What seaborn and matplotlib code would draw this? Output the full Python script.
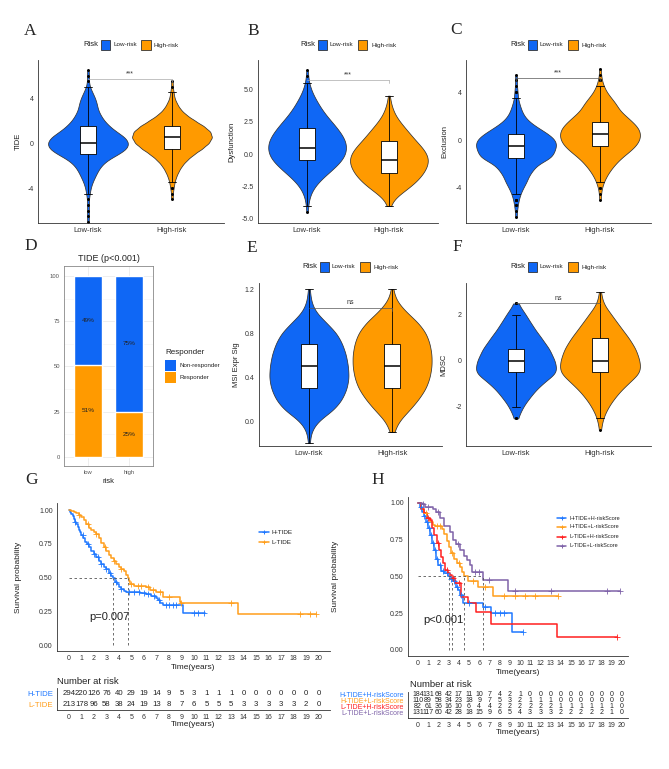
import numpy as np
import pandas as pd
import matplotlib
matplotlib.use("Agg")
import matplotlib.pyplot as plt
import seaborn as sns
from matplotlib.patches import Rectangle
from matplotlib.lines import Line2D

sns.set_theme(style="white")
plt.rcParams["font.family"] = ["Liberation Sans", "DejaVu Sans"]

BLUE = "#0F67F5"
ORANGE = "#FF9A00"
KM_BLUE = "#1F78FF"
KM_ORANGE = "#FF9E1B"
KM_RED = "#FF1F1F"
KM_PURPLE = "#7E62A8"

# ---------------- data ----------------
risk_groups = ["Low-risk", "High-risk"]

# A: TIDE  (value levels and counts)
A_levels = [-7.0, -6.5, -6.0, -5.5, -5.0, -4.5, -4.0, -3.5, -3.0, -2.5, -2.0, -1.5, -1.0, -0.5,
            0.0, 0.5, 1.0, 1.5, 2.0, 2.5, 3.0, 3.5, 4.0, 4.5, 5.0, 5.5, 6.0, 6.5]
A_low = [1, 1, 1, 1, 1, 2, 3, 5, 8, 11, 15, 22, 34, 44, 46, 42, 32, 24, 18, 14, 11, 10, 8, 5, 2, 1, 1, 1]
A_high = [0, 0, 0, 0, 1, 1, 2, 3, 5, 8, 12, 18, 26, 36, 44, 48, 46, 38, 27, 17, 10, 6, 3, 2, 1, 1, 0, 0]

# B: Dysfunction
B_levels = [-4.5, -4.0, -3.5, -3.0, -2.5, -2.0, -1.5, -1.0, -0.5, 0.0, 0.5, 1.0, 1.5, 2.0,
            2.5, 3.0, 3.5, 4.0, 4.5, 5.0, 5.5, 6.0, 6.5]
B_low = [1, 1, 2, 4, 8, 14, 22, 30, 37, 41, 42, 41, 37, 32, 26, 20, 15, 11, 7, 4, 2, 1, 1]
B_high = [0, 2, 5, 14, 24, 32, 38, 42, 44, 42, 37, 30, 24, 18, 12, 7, 4, 2, 1, 0, 0, 0, 0]

# C: Exclusion
C_levels = [-6.5, -6.0, -5.5, -5.0, -4.5, -4.0, -3.5, -3.0, -2.5, -2.0, -1.5, -1.0, -0.5,
            0.0, 0.5, 1.0, 1.5, 2.0, 2.5, 3.0, 3.5, 4.0, 4.5, 5.0, 5.5, 6.0]
C_low = [1, 1, 2, 3, 5, 8, 12, 14, 19, 24, 40, 42, 45, 44, 36, 25, 15, 9, 6, 4, 2, 2, 1, 1, 1, 0]
C_high = [0, 0, 0, 1, 1, 2, 4, 7, 11, 16, 22, 30, 37, 41, 42, 40, 34, 27, 20, 17, 12, 7, 4, 2, 1, 1]

# E: MSI Expr Sig
E_levels = [-0.2, -0.1, 0.0, 0.1, 0.2, 0.3, 0.4, 0.5, 0.6, 0.7, 0.8, 0.9, 1.0, 1.1, 1.2]
E_low = [1, 2, 9, 27, 36, 41, 43, 42, 40, 36, 30, 18, 6, 2, 1]
E_high = [0, 2, 7, 19, 29, 37, 41, 43, 43, 41, 37, 28, 14, 4, 1]

# F
F_levels = [-3.0, -2.5, -2.0, -1.5, -1.0, -0.5, 0.0, 0.5, 1.0, 1.5, 2.0, 2.5, 3.0]
F_low = [0, 2, 8, 18, 30, 50, 46, 40, 30, 20, 12, 2, 0]
F_high = [1, 3, 9, 18, 30, 46, 44, 40, 32, 22, 13, 3, 1]

# D: stacked responder bars
D_risk = ["low", "high"]
D_nonresp = [49, 75]
D_resp = [51, 25]

# G: KM curves (step times / survival)
G_H_t = [0, 0.1, 0.2, 0.3, 0.4, 0.5, 0.6, 0.7, 0.8, 0.9, 1.0, 1.15, 1.3, 1.45, 1.6, 1.8, 2.0, 2.2,
         2.4, 2.6, 2.8, 3.0, 3.2, 3.4, 3.55, 3.7, 3.85, 4.0, 4.2, 4.4, 4.6, 5.2, 5.7, 6.2, 6.6,
         7.0, 7.1, 7.3, 7.5, 9.1]
G_H_s = [1.0, 0.985, 0.97, 0.955, 0.935, 0.915, 0.895, 0.875, 0.855, 0.835, 0.815, 0.79, 0.765,
         0.745, 0.725, 0.70, 0.675, 0.65, 0.625, 0.60, 0.58, 0.56, 0.535, 0.515, 0.495, 0.47,
         0.45, 0.43, 0.415, 0.40, 0.395, 0.39, 0.385, 0.375, 0.365, 0.35, 0.335, 0.31, 0.296, 0.235]
G_H_end = 10.9
G_H_cens = [0.5, 1.1, 1.5, 2.0, 2.3, 2.6, 3.0, 3.3, 3.8, 4.2, 4.8, 5.2, 5.6, 6.0, 6.3, 6.8,
            7.2, 7.8, 8.0, 8.3, 8.6, 10.0, 10.3, 10.8]
G_L_t = [0, 0.2, 0.4, 0.6, 0.8, 1.0, 1.2, 1.4, 1.6, 1.8, 2.0, 2.2, 2.4, 2.6, 2.8, 3.0, 3.2, 3.4,
         3.6, 3.8, 4.0, 4.2, 4.4, 4.6, 4.7, 4.8, 4.9, 5.2, 6.2, 6.5, 7.0, 7.5, 8.9, 9.0, 13.5]
G_L_s = [1.0, 0.995, 0.985, 0.975, 0.96, 0.945, 0.925, 0.90, 0.87, 0.855, 0.84, 0.82, 0.79,
         0.755, 0.725, 0.695, 0.67, 0.645, 0.625, 0.60, 0.58, 0.565, 0.545, 0.52, 0.50, 0.475,
         0.455, 0.44, 0.43, 0.41, 0.395, 0.358, 0.32, 0.309, 0.23]
G_L_end = 19.8
G_L_cens = [0.8, 1.5, 2.2, 2.9, 3.6, 4.2, 5.0, 5.5, 5.8, 6.3, 6.7, 7.3, 8.0, 9.0, 13.0, 18.5, 19.3, 19.8]
G_median = [3.55, 4.7]
G_names = ["H-TIDE", "L-TIDE"]
G_risk_H = [294, 220, 126, 76, 40, 29, 19, 14, 9, 5, 3, 1, 1, 1, 0, 0, 0, 0, 0, 0, 0]
G_risk_L = [213, 178, 96, 58, 38, 24, 19, 13, 8, 7, 6, 5, 5, 5, 3, 3, 3, 3, 3, 2, 0]

# H: KM curves
H_1_t = [0, 0.2, 0.4, 0.6, 0.8, 1.0, 1.2, 1.4, 1.6, 1.8, 2.0, 2.3, 2.6, 2.9, 3.1, 3.4, 3.7, 3.9,
         4.1, 4.4, 6.4, 7.2, 9.2]
H_1_s = [1.0, 0.97, 0.94, 0.91, 0.87, 0.83, 0.78, 0.73, 0.68, 0.62, 0.58, 0.54, 0.52, 0.50,
         0.485, 0.47, 0.43, 0.41, 0.375, 0.318, 0.295, 0.25, 0.125]
H_1_end = 10.3
H_1_cens = [0.3, 0.6, 0.9, 1.1, 1.3, 1.5, 1.7, 1.9, 2.2, 2.5, 2.8, 3.2, 3.5, 3.8, 4.2, 5.0,
            6.6, 7.6, 8.0, 8.4, 10.3]
H_2_t = [0, 0.3, 0.6, 0.9, 1.2, 1.5, 1.7, 2.4, 2.6, 2.8, 3.0, 3.2, 3.5, 3.8, 4.1, 4.3, 4.5,
         4.9, 5.9, 7.4]
H_2_s = [1.0, 0.96, 0.93, 0.895, 0.87, 0.85, 0.843, 0.82, 0.79, 0.74, 0.70, 0.66, 0.62,
         0.59, 0.567, 0.53, 0.50, 0.47, 0.43, 0.37]
H_2_end = 13.7
H_2_cens = [0.8, 1.9, 2.2, 3.3, 4.0, 5.4, 6.6, 8.4, 9.5, 10.5, 11.5, 13.7]
H_3_t = [0, 0.3, 0.6, 0.9, 1.2, 1.4, 1.6, 1.85, 2.1, 2.3, 2.5, 2.65, 2.9, 3.1, 3.3, 3.6, 4.2,
         4.9, 5.7, 7.2, 13.6]
H_3_s = [1.0, 0.96, 0.93, 0.90, 0.884, 0.83, 0.78, 0.73, 0.68, 0.635, 0.59, 0.544, 0.52,
         0.51, 0.49, 0.454, 0.363, 0.318, 0.26, 0.177, 0.09]
H_3_end = 19.5
H_3_cens = [1.0, 2.0, 2.8, 3.4, 4.0, 19.5]
H_4_t = [0, 0.4, 0.7, 1.5, 1.8, 2.2, 2.6, 3.1, 3.4, 3.7, 4.1, 4.5, 4.8, 5.1, 5.3, 6.4, 8.8]
H_4_s = [1.0, 0.99, 0.975, 0.96, 0.94, 0.90, 0.84, 0.80, 0.75, 0.72, 0.68, 0.64, 0.61,
         0.578, 0.533, 0.476, 0.40]
H_4_end = 19.8
H_4_cens = [0.5, 1.0, 2.0, 3.9, 5.6, 6.0, 7.0, 9.5, 13.0, 18.5, 19.8]
H_median = [3.07, 3.3, 4.5, 6.4]
H_names = ["H-TIDE+H-riskScore", "H-TIDE+L-riskScore", "L-TIDE+H-riskScore", "L-TIDE+L-riskScore"]
H_risk_1 = [184, 131, 68, 42, 17, 11, 10, 7, 4, 2, 1, 0, 0, 0, 0, 0, 0, 0, 0, 0, 0]
H_risk_2 = [110, 89, 58, 34, 23, 18, 9, 7, 5, 3, 2, 1, 1, 1, 0, 0, 0, 0, 0, 0, 0]
H_risk_3 = [82, 61, 36, 16, 10, 6, 4, 4, 2, 2, 2, 2, 2, 2, 1, 1, 1, 1, 1, 1, 0]
H_risk_4 = [131, 117, 60, 42, 28, 18, 15, 9, 6, 5, 4, 3, 3, 3, 2, 2, 2, 2, 2, 1, 0]
years = list(range(0, 21))

# ---------------- figure ----------------
W, H = 669, 769
fig = plt.figure(figsize=(W / 100, H / 100), dpi=100)


def px_axes(l, t, r, b):
    return fig.add_axes([l / W, 1 - b / H, (r - l) / W, (b - t) / H])


def fx(x):
    return x / W


def fy(y):
    return 1 - y / H


def panel_label(x, y, s):
    fig.text(fx(x), fy(y), s, fontsize=12.5, family=["Liberation Serif", "DejaVu Serif"],
             ha="center", va="center")


def risk_legend(cx, cy):
    fig.text(fx(cx - 48), fy(cy), "Risk", fontsize=5.5, ha="left", va="center", color="#222222")
    fig.add_artist(Rectangle((fx(cx - 30.5), fy(cy + 5)), 9.5 / W, 10 / H, transform=fig.transFigure,
                             facecolor=BLUE, edgecolor="#333333", lw=0.6))
    fig.text(fx(cx - 18), fy(cy), "Low-risk", fontsize=4.6, ha="left", va="center", color="#222222")
    fig.add_artist(Rectangle((fx(cx + 10), fy(cy + 5)), 9.5 / W, 10 / H, transform=fig.transFigure,
                             facecolor=ORANGE, edgecolor="#333333", lw=0.6))
    fig.text(fx(cx + 23), fy(cy), "High-risk", fontsize=4.6, ha="left", va="center", color="#222222")


def violin_panel(box, levels, low, high, ylim, xlim, yticks, yticklabels, ylabel, label_x,
                 sig_text, sig_y, sig_style, bw=0.55):
    l, t, r, b = box
    ax = px_axes(l, t, r, b)
    vals = np.concatenate([np.repeat(levels, low), np.repeat(levels, high)])
    grp = ["Low-risk"] * int(np.sum(low)) + ["High-risk"] * int(np.sum(high))
    df = pd.DataFrame({"Risk": grp, "value": vals})
    sns.violinplot(data=df, x="Risk", y="value", hue="Risk", order=risk_groups, hue_order=risk_groups,
                   palette=[BLUE, ORANGE], inner=None, cut=0, width=0.95, linewidth=0.55,
                   linecolor="#333333", saturation=1, bw_adjust=bw, legend=False, ax=ax)
    sns.boxplot(data=df, x="Risk", y="value", order=risk_groups, width=0.2, color="white",
                linecolor="black", linewidth=0.6, saturation=1, fliersize=1.1,
                medianprops=dict(linewidth=1.1),
                flierprops=dict(marker="o", markerfacecolor="black", markeredgecolor="black"),
                ax=ax)
    ax.set_xlim(*xlim)
    ax.set_ylim(*ylim)
    ax.set_yticks(yticks)
    ax.set_yticklabels(yticklabels)
    ax.set_xlabel("")
    ax.set_ylabel(ylabel, fontsize=5.5, color="#222222")
    ax.yaxis.set_label_coords((label_x - l) / (r - l), 0.5)
    for sp in ["top", "right"]:
        ax.spines[sp].set_visible(False)
    for sp in ["left", "bottom"]:
        ax.spines[sp].set_color("#333333")
        ax.spines[sp].set_linewidth(0.6)
    ax.tick_params(axis="both", length=2, width=0.5, pad=1, colors="#333333", labelsize=5)
    ax.tick_params(axis="x", labelsize=5.5)
    ax.set_facecolor("white")
    # significance bracket
    col = "#AAAAAA" if sig_style == "light" else "#555555"
    ax.plot([0, 1], [sig_y, sig_y], color=col, lw=0.5)
    span = (ylim[1] - ylim[0]) * 0.02
    if sig_style == "both":
        ax.plot([0, 0], [sig_y, sig_y - span], color=col, lw=0.5)
        ax.plot([1, 1], [sig_y, sig_y - span], color=col, lw=0.5)
    elif sig_style in ("right", "light"):
        ax.plot([1, 1], [sig_y, sig_y - span], color=col, lw=0.5)
    ax.text(0.5, sig_y + span * 0.6, sig_text, ha="center", va="bottom", fontsize=5, color="#333333")
    return ax


# ---- A, B, C ----
panel_label(30, 31, "A")
panel_label(253, 31, "B")
panel_label(456, 30, "C")
risk_legend(131, 45)
risk_legend(348, 45)
risk_legend(558, 45)

violin_panel((38, 60, 224, 223), A_levels, A_low, A_high, (-7.11, 7.38), (-0.595, 1.62),
             [-4, 0, 4], ["-4", "0", "4"], "TIDE", 22, "***", 5.7, "light")
violin_panel((258, 60, 438, 223), B_levels, B_low, B_high, (-5.32, 7.25), (-0.6, 1.6),
             [-5, -2.5, 0, 2.5, 5], ["-5.0", "-2.5", "0.0", "2.5", "5.0"], "Dysfunction", 235,
             "***", 5.7, "light", bw=0.8)
violin_panel((466, 60, 651, 223), C_levels, C_low, C_high, (-6.97, 6.72), (-0.595, 1.607),
             [-4, 0, 4], ["-4", "0", "4"], "Exclusion", 448, "***", 5.2, "both", bw=0.65)

# ---- D ----
panel_label(31, 246, "D")
axD = px_axes(64, 266, 153, 466)
dfD = pd.DataFrame({"risk": D_risk,
                    "total": [a + b for a, b in zip(D_nonresp, D_resp)],
                    "resp": D_resp})
axD.set_axisbelow(True)
for v in [0, 25, 50, 75, 100]:
    axD.axhline(v, color="#EBEBEB", lw=0.6, zorder=0)
for v in [12.5, 37.5, 62.5, 87.5]:
    axD.axhline(v, color="#F3F3F3", lw=0.4, zorder=0)
for v in [0, 1]:
    axD.axvline(v, color="#EBEBEB", lw=0.6, zorder=0)
sns.barplot(data=dfD, x="risk", y="total", color=BLUE, width=0.7, saturation=1, ax=axD, zorder=2)
sns.barplot(data=dfD, x="risk", y="resp", color=ORANGE, width=0.7, saturation=1, ax=axD, zorder=3)
axD.set_xlim(-0.585, 1.585)
axD.set_ylim(-5, 105.5)
axD.set_yticks([0, 25, 50, 75, 100])
axD.set_yticklabels(["0", "25", "50", "75", "100"])
axD.set_ylabel("")
axD.set_xlabel("risk", fontsize=5.5, color="#222222", labelpad=2)
for sp in axD.spines.values():
    sp.set_color("#888888")
    sp.set_linewidth(0.6)
axD.tick_params(axis="both", length=2, width=0.5, pad=1, colors="#555555", labelsize=4.2)
for i, (nr, rs) in enumerate(zip(D_nonresp, D_resp)):
    axD.text(i, rs + nr / 2, f"{nr}%", ha="center", va="center", fontsize=4.6, color="#222222", zorder=5)
    axD.text(i, rs / 2, f"{rs}%", ha="center", va="center", fontsize=4.6, color="#222222", zorder=5)
fig.text(fx(108.5), fy(258), "TIDE (p<0.001)", fontsize=6.5, ha="center", va="center", color="#222222")
fig.text(fx(165), fy(353), "Responder", fontsize=5.8, ha="left", va="center", color="#222222")
fig.add_artist(Rectangle((fx(165), fy(371)), 11 / W, 11.5 / H, transform=fig.transFigure,
                         facecolor=BLUE, edgecolor="none"))
fig.text(fx(180), fy(365), "Non-responder", fontsize=4.4, ha="left", va="center", color="#222222")
fig.add_artist(Rectangle((fx(165), fy(383)), 11 / W, 11.5 / H, transform=fig.transFigure,
                         facecolor=ORANGE, edgecolor="none"))
fig.text(fx(180), fy(377), "Responder", fontsize=4.4, ha="left", va="center", color="#222222")

# ---- E, F ----
panel_label(252, 248, "E")
panel_label(457, 247, "F")
risk_legend(350, 267)
risk_legend(558, 267)
violin_panel((259, 283, 442, 446), E_levels, E_low, E_high, (-0.227, 1.255), (-0.6, 1.6),
             [0.0, 0.4, 0.8, 1.2], ["0.0", "0.4", "0.8", "1.2"], "MSI Expr Sig", 240,
             "ns", 1.03, "right", bw=0.8)
violin_panel((466, 283, 651, 446), F_levels, F_low, F_high, (-3.70, 3.39), (-0.595, 1.607),
             [-2, 0, 2], ["-2", "0", "2"], "MDSC", 447, "ns", 2.5, "none", bw=0.9)


# ---- KM helpers ----
def km_curve(ax, t, s, end, cens, color):
    tt = list(t) + [end]
    ss = list(s) + [s[-1]]
    sns.lineplot(x=tt, y=ss, drawstyle="steps-post", color=color, lw=1.1, ax=ax,
                 estimator=None, sort=False)
    idx = np.searchsorted(np.asarray(t), np.asarray(cens), side="right") - 1
    cy = np.asarray(s)[idx]
    sns.scatterplot(x=cens, y=cy, marker="+", s=14, color=color, linewidth=0.6, ax=ax, zorder=4)


def km_axes_style(ax, ylabel_x, l, r):
    for sp in ["top", "right"]:
        ax.spines[sp].set_visible(False)
    for sp in ["left", "bottom"]:
        ax.spines[sp].set_color("#333333")
        ax.spines[sp].set_linewidth(0.6)
    ax.set_yticks([0, 0.25, 0.5, 0.75, 1.0])
    ax.set_yticklabels(["0.00", "0.25", "0.50", "0.75", "1.00"])
    ax.set_xticks(years)
    ax.set_xticklabels([str(y) for y in years])
    ax.tick_params(axis="both", length=2, width=0.5, pad=1, colors="#333333", labelsize=5)
    ax.set_xlabel("Time(years)", fontsize=6, color="#222222", labelpad=1)
    ax.set_ylabel("Survival probability", fontsize=6, color="#222222")
    ax.yaxis.set_label_coords((ylabel_x - l) / (r - l), 0.5)


def risk_table(box, xlim, rows, names, colors, title_xy, ylim, xlabel_y, fs):
    l, t, r, b = box
    ax = px_axes(l, t, r, b)
    n = len(rows)
    for i, (row, col) in enumerate(zip(rows, colors)):
        ypos = n - 1 - i
        for yr, v in zip(years, row):
            ax.text(yr, ypos, str(v), ha="center", va="center", fontsize=fs, color="#222222")
    ax.set_xlim(*xlim)
    ax.set_ylim(*ylim)
    ax.set_yticks([n - 1 - i for i in range(n)])
    ax.set_yticklabels(names)
    ax.set_xticks(years)
    ax.set_xticklabels([str(y) for y in years])
    for sp in ["top", "right"]:
        ax.spines[sp].set_visible(False)
    for sp in ["left", "bottom"]:
        ax.spines[sp].set_color("#333333")
        ax.spines[sp].set_linewidth(0.6)
    ax.tick_params(axis="both", length=2, width=0.5, pad=1, colors="#333333", labelsize=5)
    ax.tick_params(axis="y", labelsize=fs)
    for lab, col in zip(ax.get_yticklabels(), colors):
        lab.set_color(col)
    ax.set_facecolor("none")
    fig.text(fx(title_xy[0]), fy(title_xy[1]), "Number at risk", fontsize=6.8, ha="left",
             va="center", color="#222222")
    fig.text(fx((l + r) / 2), fy(xlabel_y), "Time(years)", fontsize=6, ha="center", va="center",
             color="#222222")
    return ax


# ---- G ----
panel_label(31, 480, "G")
gl, gt, gr, gb = 57, 503, 330, 651
axG = px_axes(gl, gt, gr, gb)
km_curve(axG, G_H_t, G_H_s, G_H_end, G_H_cens, KM_BLUE)
km_curve(axG, G_L_t, G_L_s, G_L_end, G_L_cens, KM_ORANGE)
axG.plot([0, max(G_median)], [0.5, 0.5], ls=(0, (3, 3)), color="#555555", lw=0.6)
for m in G_median:
    axG.plot([m, m], [0, 0.5], ls=(0, (3, 3)), color="#555555", lw=0.6)
axG.set_xlim(-0.96, 20.9)
axG.set_ylim(-0.044, 1.052)
km_axes_style(axG, 22, gl, gr)
axG.text(1.6, 0.21, "p=0.007", fontsize=8, color="#222222", va="center", ha="left")
for name, col, yy in zip(G_names, [KM_BLUE, KM_ORANGE], [532, 542]):
    fig.add_artist(Line2D([fx(259), fx(269)], [fy(yy), fy(yy)], color=col, lw=1.1,
                          transform=fig.transFigure))
    fig.add_artist(Line2D([fx(264)], [fy(yy)], color=col, marker="+", ms=3.5, mew=0.7,
                          transform=fig.transFigure))
    fig.text(fx(272), fy(yy), name, fontsize=4.6, ha="left", va="center", color="#222222")

risk_table((57, 688, 330, 710), (-0.96, 20.9), [G_risk_H, G_risk_L], G_names,
           [KM_BLUE, KM_ORANGE], (57, 681.5), (-0.5, 1.5), 724.5, 5.6)

# ---- H ----
panel_label(378, 480, "H")
hl, ht, hr, hb = 408, 497, 628, 656
axH = px_axes(hl, ht, hr, hb)
for (t_, s_, e_, c_, col) in [(H_1_t, H_1_s, H_1_end, H_1_cens, KM_BLUE),
                              (H_2_t, H_2_s, H_2_end, H_2_cens, KM_ORANGE),
                              (H_3_t, H_3_s, H_3_end, H_3_cens, KM_RED),
                              (H_4_t, H_4_s, H_4_end, H_4_cens, KM_PURPLE)]:
    km_curve(axH, t_, s_, e_, c_, col)
axH.plot([0, max(H_median)], [0.5, 0.5], ls=(0, (3, 3)), color="#555555", lw=0.6)
for m in H_median:
    axH.plot([m, m], [0, 0.5], ls=(0, (3, 3)), color="#555555", lw=0.6)
axH.set_xlim(-0.98, 20.6)
axH.set_ylim(-0.041, 1.04)
km_axes_style(axH, 339, hl, hr)
axH.text(0.5, 0.205, "p<0.001", fontsize=8, color="#222222", va="center", ha="left")
for name, col, yy in zip(H_names, [KM_BLUE, KM_ORANGE, KM_RED, KM_PURPLE], [518, 527, 536.5, 545.5]):
    fig.add_artist(Line2D([fx(557), fx(566)], [fy(yy), fy(yy)], color=col, lw=1.1,
                          transform=fig.transFigure))
    fig.add_artist(Line2D([fx(561.5)], [fy(yy)], color=col, marker="+", ms=3.5, mew=0.7,
                          transform=fig.transFigure))
    fig.text(fx(569), fy(yy), name, fontsize=4.0, ha="left", va="center", color="#222222")

risk_table((408, 692, 628, 717.7), (-0.98, 20.6), [H_risk_1, H_risk_2, H_risk_3, H_risk_4],
           H_names, [KM_BLUE, KM_ORANGE, KM_RED, KM_PURPLE], (410, 684.5), (-0.8, 3.5), 732, 5.0)

fig.savefig("out.png", dpi=100, facecolor="white")
